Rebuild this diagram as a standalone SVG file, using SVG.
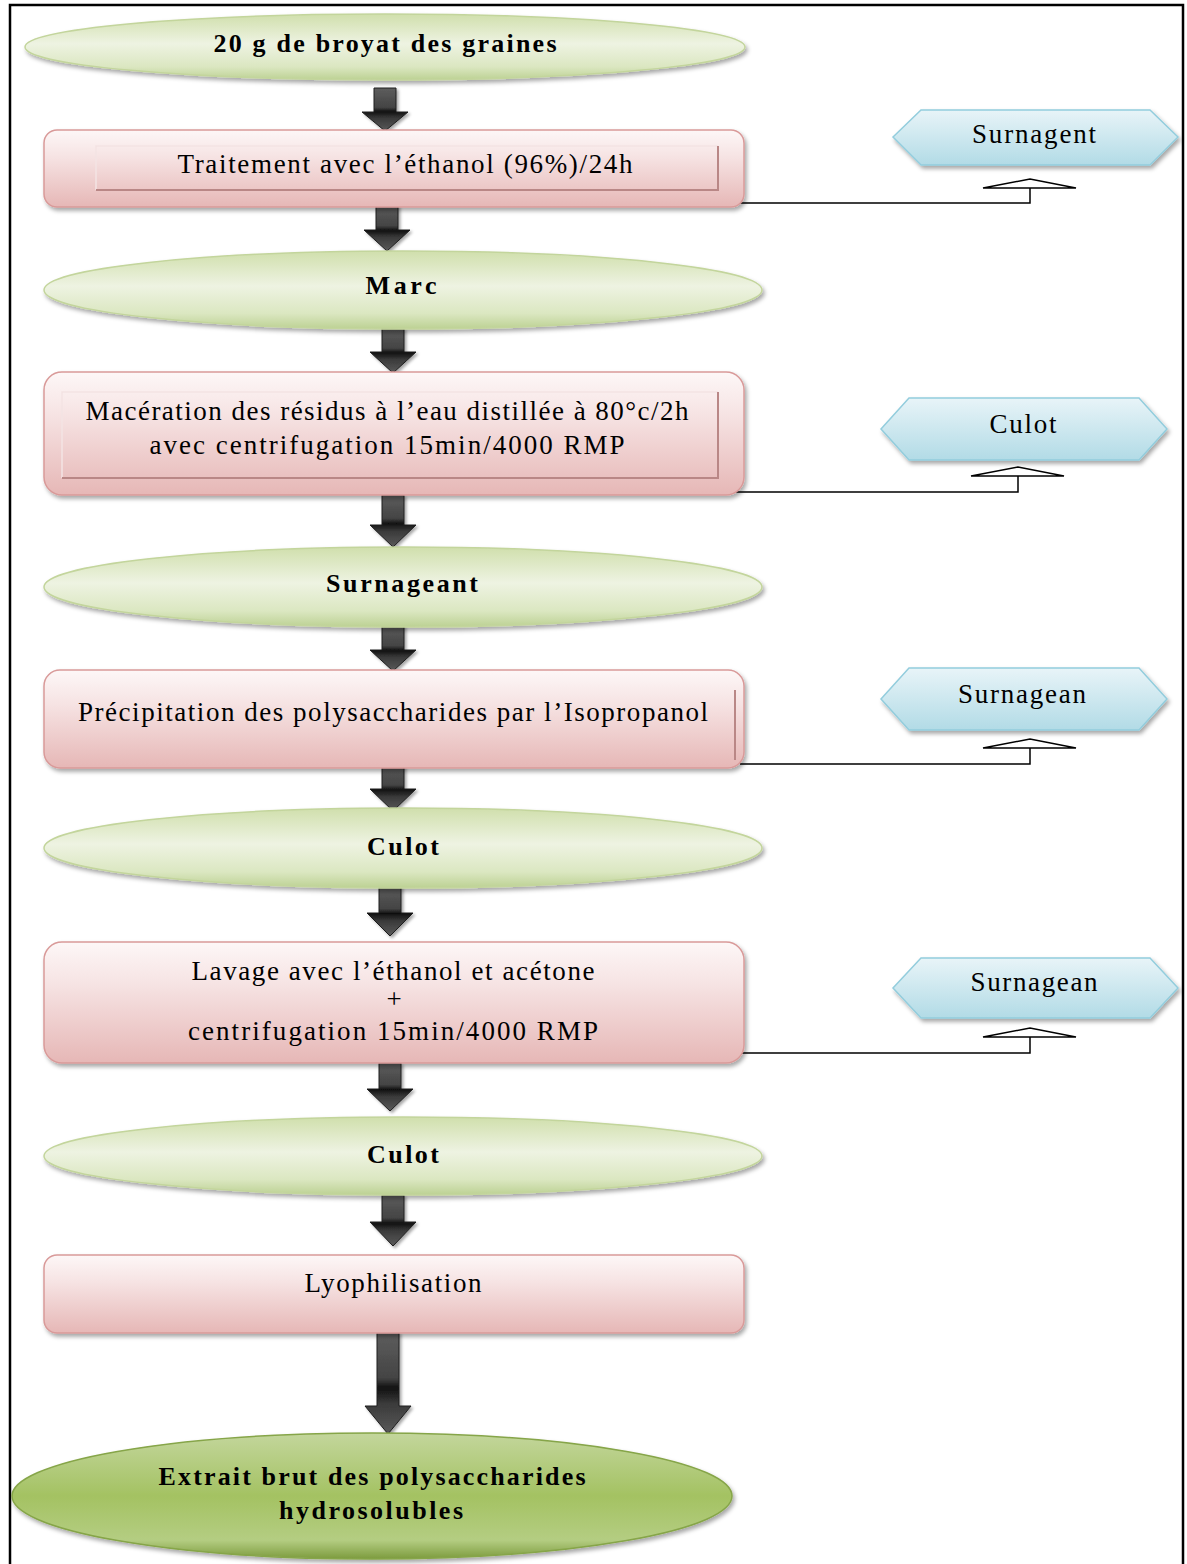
<svg xmlns="http://www.w3.org/2000/svg" width="1187" height="1564" viewBox="0 0 1187 1564">
<defs>
<linearGradient id="gGreen" x1="0" y1="0" x2="0" y2="1">
<stop offset="0" stop-color="#d0dfac"/>
<stop offset="0.45" stop-color="#eef3e2"/>
<stop offset="0.8" stop-color="#dbe7c1"/>
<stop offset="1" stop-color="#bcd193"/>
</linearGradient>
<linearGradient id="gGreenDark" x1="0" y1="0" x2="0" y2="1">
<stop offset="0" stop-color="#c3d69c"/>
<stop offset="0.5" stop-color="#a4c262"/>
<stop offset="0.85" stop-color="#b4cd82"/>
<stop offset="1" stop-color="#7c9b3e"/>
</linearGradient>
<linearGradient id="gPink" x1="0" y1="0" x2="0" y2="1">
<stop offset="0" stop-color="#fdf7f7"/>
<stop offset="0.35" stop-color="#f6e3e3"/>
<stop offset="1" stop-color="#e6b7b6"/>
</linearGradient>
<linearGradient id="gBlue" x1="0" y1="0" x2="0" y2="1">
<stop offset="0" stop-color="#e8f4f8"/>
<stop offset="1" stop-color="#b2dbe6"/>
</linearGradient>
<linearGradient id="gArrow" x1="0" y1="0" x2="0" y2="1">
<stop offset="0" stop-color="#5e5e5e"/>
<stop offset="0.45" stop-color="#444"/>
<stop offset="0.55" stop-color="#111"/>
<stop offset="0.7" stop-color="#3a3a3a"/>
<stop offset="1" stop-color="#5a5a5a"/>
</linearGradient>
<filter id="sh" x="-5%" y="-20%" width="110%" height="150%">
<feDropShadow dx="2" dy="3" stdDeviation="2" flood-color="#000" flood-opacity="0.35"/>
</filter>
<filter id="shA" x="-50%" y="-20%" width="200%" height="150%">
<feDropShadow dx="2" dy="2" stdDeviation="1.5" flood-color="#000" flood-opacity="0.35"/>
</filter>
</defs>
<style>
.ell{fill:url(#gGreen);stroke:#c3d59c;stroke-width:1.5;filter:url(#sh)}
.ellD{fill:url(#gGreenDark);stroke:#86a548;stroke-width:1.5;filter:url(#sh)}
.box{fill:url(#gPink);stroke:#d99a99;stroke-width:1.5;filter:url(#sh)}
.hex{fill:url(#gBlue);stroke:#93cddd;stroke-width:1.5;filter:url(#sh)}
.inset{fill:none;stroke:#b98786;stroke-width:2}
.insetL{fill:none;stroke:#f3e3e3;stroke-width:1.5}
.arr{fill:url(#gArrow);stroke:#1e1e1e;stroke-width:1;filter:url(#shA)}
.con{fill:none;stroke:#000;stroke-width:1.5}
.tri{fill:#fff;stroke:#000;stroke-width:1.5}
text{font-family:"Liberation Serif","Times New Roman",serif;fill:#000;font-size:27px}
.b{font-weight:bold;font-size:26px}
</style>
<rect x="10" y="5" width="1173" height="1580" fill="#fff" stroke="#000" stroke-width="2.5"/>

<g id="connectors">
<path class="arr" d="M374,88H396V112H408L385,131L362,112H374Z"/>
<path class="arr" d="M376,205H398V230H410L387,251L364,230H376Z"/>
<path class="arr" d="M382,328H404V352H416L393,373L370,352H382Z"/>
<path class="arr" d="M382,495H404V525H416L393,547L370,525H382Z"/>
<path class="arr" d="M382,625H404V650H416L393,671L370,650H382Z"/>
<path class="arr" d="M382,764H404V789H416L393,811L370,789H382Z"/>
<path class="arr" d="M379,886H401V913H413L390,936L367,913H379Z"/>
<path class="arr" d="M379,1063H401V1089H413L390,1111L367,1089H379Z"/>
<path class="arr" d="M382,1195H404V1222H416L393,1246L370,1222H382Z"/>
<path class="arr" d="M377,1332H399V1406H411L388,1434L365,1406H377Z"/>

<path class="con" d="M740,203H1030V188"/>
<path class="tri" d="M983,188L1030,179L1076,188Z"/>
<path class="con" d="M732,492H1018V476"/>
<path class="tri" d="M971,476L1018,467L1064,476Z"/>
<path class="con" d="M740,764H1030V748"/>
<path class="tri" d="M983,748L1030,739L1076,748Z"/>
<path class="con" d="M740,1053H1030V1037"/>
<path class="tri" d="M983,1037L1030,1028L1076,1037Z"/>
</g>

<g id="n1">
<ellipse class="ell" cx="385" cy="47" rx="360" ry="33"/>
<text class="b" x="385" y="52" text-anchor="middle" textLength="343" lengthAdjust="spacing">20 g de broyat des graines</text>
</g>

<g id="n2">
<rect class="box" x="44" y="130" width="700" height="77" rx="13"/>
<path class="insetL" d="M96,190V146H718"/>
<path class="inset" d="M96,190H718V146"/>
<text x="405" y="173" text-anchor="middle" textLength="455" lengthAdjust="spacing">Traitement avec l’éthanol (96%)/24h</text>
</g>

<g id="n3">
<polygon class="hex" points="893,137 921,110 1150,110 1178,137 1150,165 921,165"/>
<text x="1034" y="143" text-anchor="middle" textLength="124" lengthAdjust="spacing">Surnagent</text>
</g>

<g id="n4">
<ellipse class="ell" cx="403" cy="290" rx="359" ry="39"/>
<text class="b" x="401" y="294" text-anchor="middle" textLength="71" lengthAdjust="spacing">Marc</text>
</g>

<g id="n5">
<rect class="box" x="44" y="372" width="700" height="123" rx="18"/>
<path class="insetL" d="M62,478V392H718"/>
<path class="inset" d="M62,478H718V392"/>
<text x="387" y="420" text-anchor="middle" textLength="603" lengthAdjust="spacing">Macération des résidus à l’eau distillée à 80°c/2h</text>
<text x="387" y="454" text-anchor="middle" textLength="475" lengthAdjust="spacing">avec centrifugation 15min/4000  RMP</text>
</g>

<g id="n6">
<polygon class="hex" points="881,429 909,398 1139,398 1167,429 1139,460 909,460"/>
<text x="1023" y="433" text-anchor="middle" textLength="67" lengthAdjust="spacing">Culot</text>
</g>

<g id="n7">
<ellipse class="ell" cx="403" cy="587" rx="359" ry="40"/>
<text class="b" x="402" y="592" text-anchor="middle" textLength="152" lengthAdjust="spacing">Surnageant</text>
</g>

<g id="n8">
<rect class="box" x="44" y="670" width="700" height="98" rx="16"/>
<path class="inset" d="M735,690V760"/>
<text x="393" y="721" text-anchor="middle" textLength="630" lengthAdjust="spacing">Précipitation des polysaccharides par l’Isopropanol</text>
</g>

<g id="n9">
<polygon class="hex" points="881,699 909,668 1139,668 1167,699 1139,730 909,730"/>
<text x="1022" y="703" text-anchor="middle" textLength="128" lengthAdjust="spacing">Surnagean</text>
</g>

<g id="n10">
<ellipse class="ell" cx="403" cy="848" rx="359" ry="40"/>
<text class="b" x="403" y="855" text-anchor="middle" textLength="72" lengthAdjust="spacing">Culot</text>
</g>

<g id="n11">
<rect class="box" x="44" y="942" width="700" height="121" rx="18"/>
<text x="393" y="980" text-anchor="middle" textLength="403" lengthAdjust="spacing">Lavage avec l’éthanol et acétone</text>
<text x="394" y="1008" text-anchor="middle">+</text>
<text x="393" y="1040" text-anchor="middle" textLength="410" lengthAdjust="spacing">centrifugation 15min/4000  RMP</text>
</g>

<g id="n12">
<polygon class="hex" points="893,988 921,958 1150,958 1178,988 1150,1018 921,1018"/>
<text x="1034" y="991" text-anchor="middle" textLength="127" lengthAdjust="spacing">Surnagean</text>
</g>

<g id="n13">
<ellipse class="ell" cx="403" cy="1156" rx="359" ry="39"/>
<text class="b" x="403" y="1163" text-anchor="middle" textLength="72" lengthAdjust="spacing">Culot</text>
</g>

<g id="n14">
<rect class="box" x="44" y="1255" width="700" height="78" rx="13"/>
<text x="393" y="1292" text-anchor="middle" textLength="177" lengthAdjust="spacing">Lyophilisation</text>
</g>

<g id="n15">
<ellipse class="ellD" cx="372" cy="1496" rx="360" ry="63"/>
<text class="b" x="372" y="1485" text-anchor="middle" textLength="427" lengthAdjust="spacing">Extrait brut des polysaccharides</text>
<text class="b" x="371" y="1519" text-anchor="middle" textLength="184" lengthAdjust="spacing">hydrosolubles</text>
</g>
</svg>
